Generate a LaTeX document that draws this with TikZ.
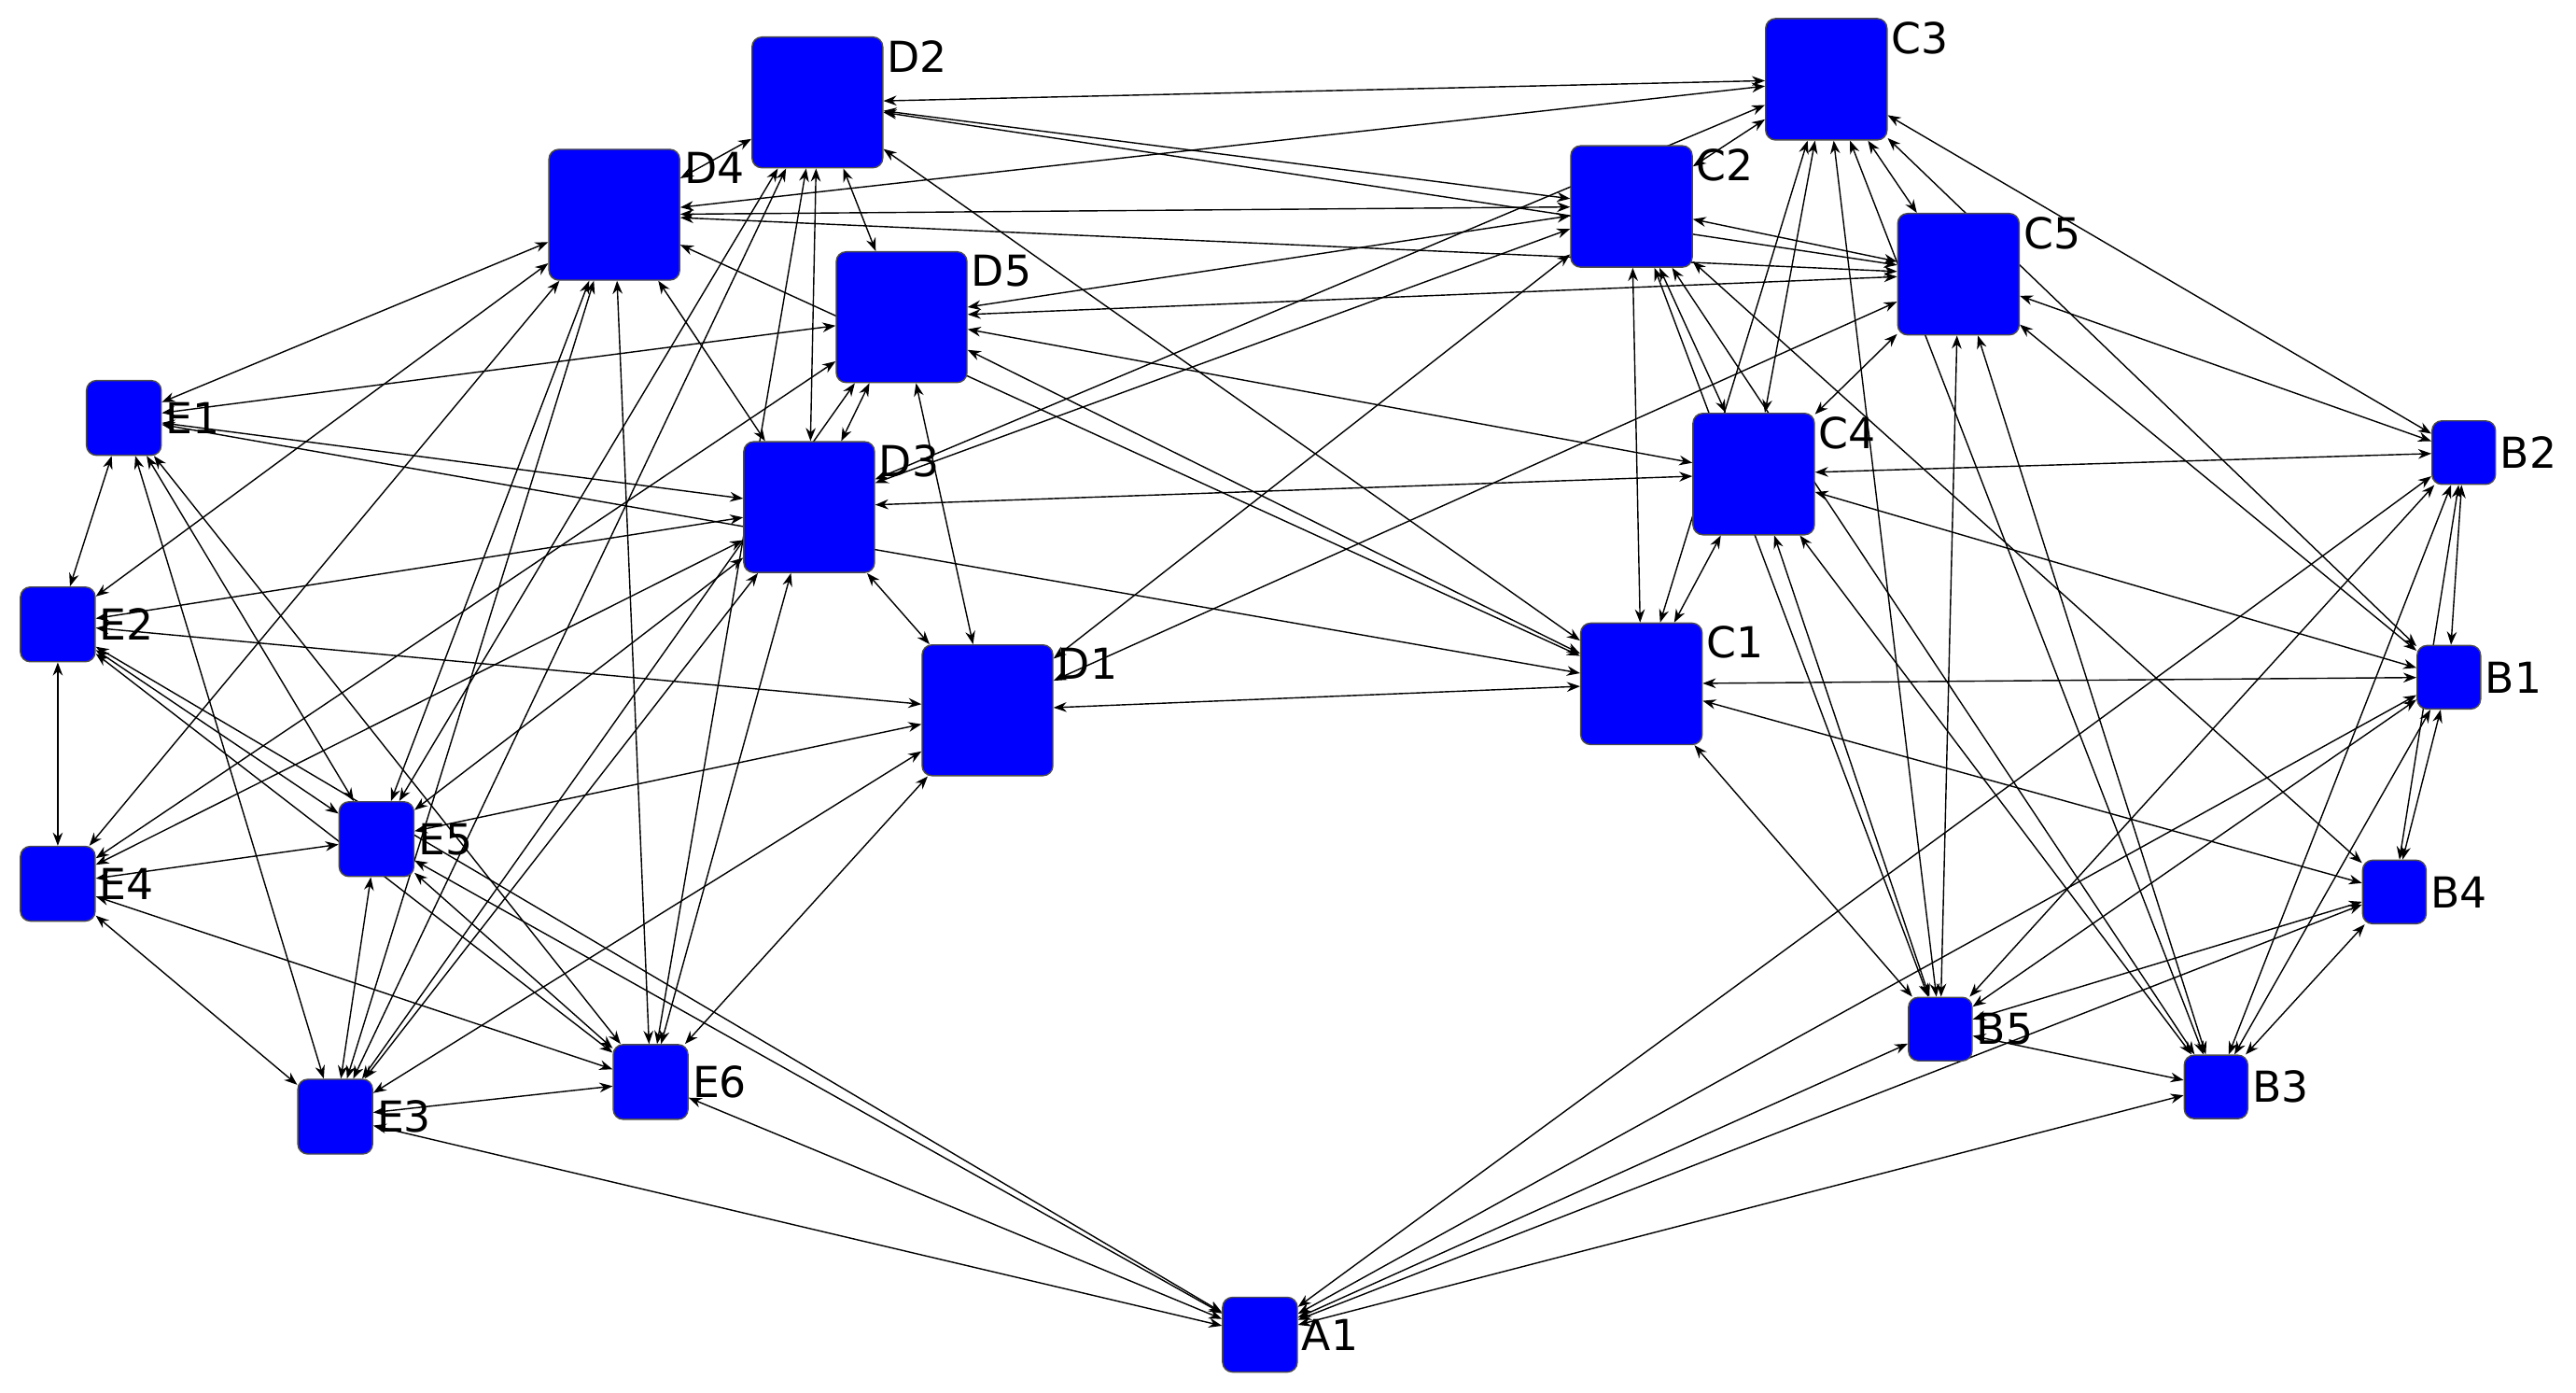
\documentclass[tikz,border=0pt]{standalone}
\usepackage{fontspec}
\setmainfont{DejaVu Sans}
\usetikzlibrary{arrows.meta,backgrounds}
\tikzset{
  box/.style={draw=black!70, fill=blue, rounded corners=3pt, inner sep=0pt},
  big/.style={box, minimum size=1.4cm},
  mid/.style={box, minimum size=1.3cm},
  small/.style={box, minimum size=0.8cm},
  tiny/.style={box, minimum size=0.68cm},
  lbl/.style={font=\fontsize{13}{13}\selectfont, inner sep=1pt},
  edge/.style={{Stealth[length=4pt,width=3pt]}-{Stealth[length=4pt,width=3pt]}, thin},
}
\begin{document}
\begin{tikzpicture}[x=0.01769cm, y=-0.01769cm]
\useasboundingbox (0,0) rectangle (1560,843);
% D group
\node[big] (D2) at (495,62) {}; \node[lbl, anchor=north west] at (D2.north east) {D2};
\node[big] (D4) at (372,130) {}; \node[lbl, anchor=north west] at (D4.north east) {D4};
\node[big] (D5) at (546,192) {}; \node[lbl, anchor=north west] at (D5.north east) {D5};
\node[big] (D3) at (490,307) {}; \node[lbl, anchor=north west] at (D3.north east) {D3};
\node[big] (D1) at (598,430) {}; \node[lbl, anchor=north west] at (D1.north east) {D1};
% C group
\node[mid] (C3) at (1106,48) {}; \node[lbl, anchor=north west] at (C3.north east) {C3};
\node[mid] (C2) at (988,125) {}; \node[lbl, anchor=north west] at (C2.north east) {C2};
\node[mid] (C5) at (1186,166) {}; \node[lbl, anchor=north west] at (C5.north east) {C5};
\node[mid] (C4) at (1062,287) {}; \node[lbl, anchor=north west] at (C4.north east) {C4};
\node[mid] (C1) at (994,414) {}; \node[lbl, anchor=north west] at (C1.north east) {C1};
% E group
\node[small] (E1) at (75,253) {}; \node[lbl, anchor=west] at (E1.east) {E1};
\node[small] (E2) at (35,378) {}; \node[lbl, anchor=west] at (E2.east) {E2};
\node[small] (E4) at (35,535) {}; \node[lbl, anchor=west] at (E4.east) {E4};
\node[small] (E5) at (228,508) {}; \node[lbl, anchor=west] at (E5.east) {E5};
\node[small] (E3) at (203,676) {}; \node[lbl, anchor=west] at (E3.east) {E3};
\node[small] (E6) at (394,655) {}; \node[lbl, anchor=west] at (E6.east) {E6};
% A and B
\node[small] (A1) at (763,808) {}; \node[lbl, anchor=west] at (A1.east) {A1};
\node[tiny] (B2) at (1492,274) {}; \node[lbl, anchor=west] at (B2.east) {B2};
\node[tiny] (B1) at (1483,410) {}; \node[lbl, anchor=west] at (B1.east) {B1};
\node[tiny] (B4) at (1450,540) {}; \node[lbl, anchor=west] at (B4.east) {B4};
\node[tiny] (B5) at (1175,623) {}; \node[lbl, anchor=west] at (B5.east) {B5};
\node[tiny] (B3) at (1342,658) {}; \node[lbl, anchor=west] at (B3.east) {B3};
% links, behind the boxes
\begin{scope}[on background layer]
\foreach \a/\b in {A1/E3,A1/E6,A1/E5,A1/E2,A1/B5,A1/B3,A1/B4,A1/B1,A1/B2,
  E1/E2,E2/E4,E1/E3,E1/E5,E1/E6,E2/E5,E2/E6,E4/E5,E4/E3,E4/E6,E5/E3,E5/E6,E3/E6,
  E1/D4,E1/D5,E1/D3,E1/C1,E2/D1,E2/D3,E2/D4,E4/D4,E4/D5,E4/D3,
  E5/D1,E5/D2,E5/D4,E5/D3,E3/D2,E3/D4,E3/D5,E3/D3,E3/D1,E6/D4,E6/D2,E6/D3,E6/D1,
  D2/D4,D2/D5,D2/D3,D4/D3,D5/D3,D3/D1,D5/D1,
  D2/C3,D2/C2,D2/C5,D2/C1,D4/C3,D4/C2,D4/C5,D5/C2,D5/C5,D5/C4,D5/C1,
  D3/C3,D3/C2,D3/C4,D1/C1,D1/C5,D1/C2,D4/C1,
  C3/C2,C3/C5,C3/C4,C3/C1,C2/C5,C2/C4,C2/C1,C5/C4,C4/C1,
  C3/B2,C3/B1,C3/B3,C5/B2,C5/B1,C5/B3,C5/B5,C4/B2,C4/B1,C4/B5,C4/B3,
  C1/B1,C1/B4,C1/B5,C2/B3,C2/B4,C2/B5,C3/B5,
  B2/B1,B1/B4,B2/B4,B2/B5,B1/B5,B4/B5,B4/B3,B5/B3,B2/B3,B1/B3}
  \draw[edge] (\a) -- (\b);
\end{scope}
\end{tikzpicture}
\end{document}
